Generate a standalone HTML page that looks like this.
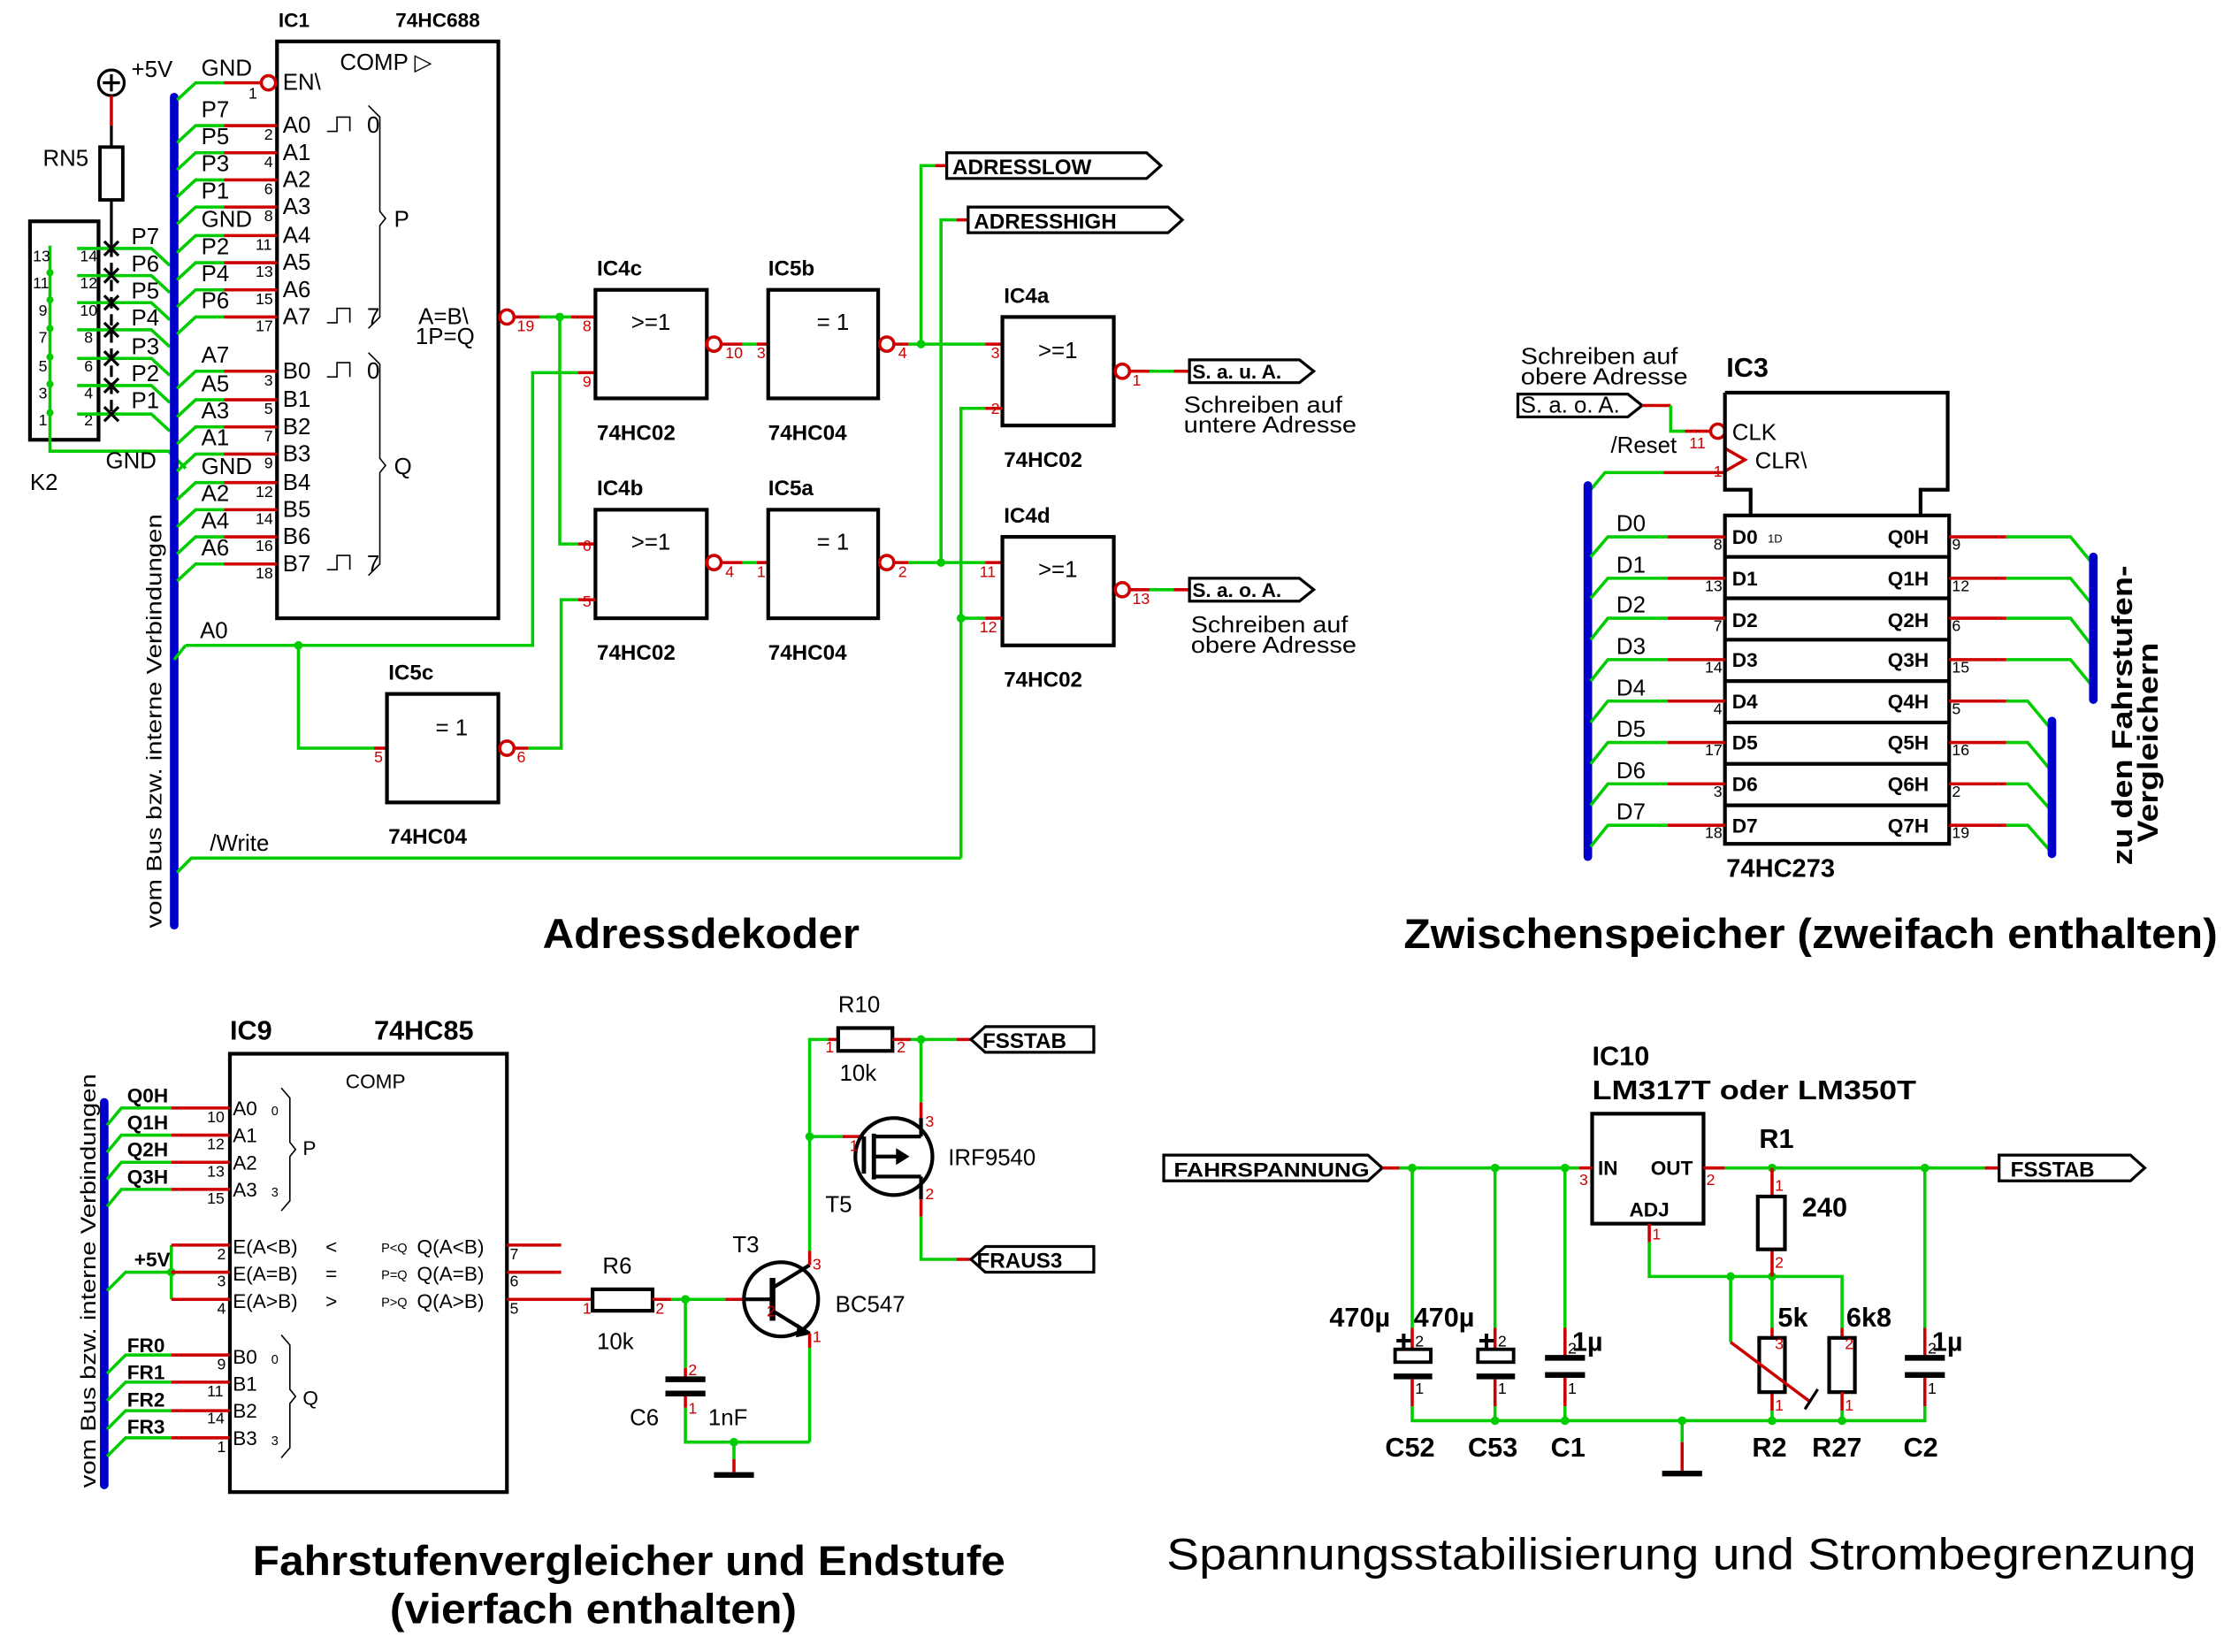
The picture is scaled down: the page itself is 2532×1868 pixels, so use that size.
<!DOCTYPE html>
<html><head><meta charset="utf-8"><style>
html,body{margin:0;padding:0;background:#fff;}
svg{display:block}
.g{stroke:#00cc00;stroke-width:2.2;fill:none}
.r{stroke:#cc0000;stroke-width:2.2;fill:none}
.k{stroke:#000;stroke-width:2.6;fill:none}
.b{stroke:#0000cc;stroke-width:6;stroke-linecap:round;fill:none}
text{font-family:"Liberation Sans",sans-serif;fill:#000}
.t{font-size:16px}
.bd{font-weight:bold}
.n{font-size:11px;fill:#cc0000}
.h{font-size:29px;font-weight:bold}
.dot{fill:#00cc00}
.s{font-size:15px}
</style></head><body>
<svg width="2532" height="1868" viewBox="0 0 1568 1157" preserveAspectRatio="none" xmlns="http://www.w3.org/2000/svg">
<rect width="1568" height="1157" fill="#fff"/>

<!-- ================= ADRESSDEKODER ================= -->
<circle cx="78" cy="58" r="9" class="k" style="stroke-width:2"/>
<path d="M72,58H84M78,52V64" class="k" style="stroke-width:2"/>
<text x="92" y="54" class="t">+5V</text>
<path d="M78,67V88" class="r"/>
<path d="M78,88V103M78,140V172" class="k" style="stroke-width:2"/>
<rect x="70" y="103" width="16" height="37" class="k" style="stroke-width:2.4"/>
<text x="30" y="116" class="t">RN5</text>
<path d="M78,172V290" class="k" style="stroke-width:2;stroke-dasharray:8,4"/>
<rect x="21" y="155" width="48" height="153" class="k"/>
<text x="21" y="343" class="t">K2</text>
<path d="M35,172V316H118L130,328" class="g"/>
<text x="74" y="328" class="t">GND</text>
<g class="n">
<text x="23" y="183">13</text><text x="23" y="202">11</text><text x="27" y="221">9</text><text x="27" y="240">7</text><text x="27" y="260">5</text><text x="27" y="279">3</text><text x="27" y="298">1</text>
<text x="56" y="183">14</text><text x="56" y="202">12</text><text x="56" y="221">10</text><text x="59" y="240">8</text><text x="59" y="260">6</text><text x="59" y="279">4</text><text x="59" y="298">2</text>
</g>
<g class="dot"><circle cx="35" cy="191" r="2.5"/><circle cx="35" cy="210" r="2.5"/><circle cx="35" cy="230" r="2.5"/><circle cx="35" cy="250" r="2.5"/><circle cx="35" cy="269" r="2.5"/><circle cx="35" cy="289" r="2.5"/></g>
<g class="g">
<path d="M54,174H106L119,186"/><path d="M54,193H106L119,205"/><path d="M54,212H106L119,224"/><path d="M54,231H106L119,243"/><path d="M54,251H106L119,263"/><path d="M54,270H106L119,282"/><path d="M54,290H106L119,302"/>
</g>
<g class="k" style="stroke-width:2">
<path d="M73,169l10,10M83,169l-10,10"/><path d="M73,188l10,10M83,188l-10,10"/><path d="M73,207l10,10M83,207l-10,10"/><path d="M73,226l10,10M83,226l-10,10"/><path d="M73,246l10,10M83,246l-10,10"/><path d="M73,265l10,10M83,265l-10,10"/><path d="M73,285l10,10M83,285l-10,10"/>
</g>
<g class="t"><text x="92" y="171">P7</text><text x="92" y="190">P6</text><text x="92" y="209">P5</text><text x="92" y="228">P4</text><text x="92" y="248">P3</text><text x="92" y="267">P2</text><text x="92" y="286">P1</text></g>

<path d="M122,68V648" class="b"/>
<text transform="translate(113,650) rotate(-90)" class="s" textLength="290" lengthAdjust="spacingAndGlyphs">vom Bus bzw. interne Verbindungen</text>

<rect x="194" y="29" width="155" height="404" class="k"/>
<text x="195" y="19" class="bd" style="font-size:14px">IC1</text>
<text x="277" y="19" class="bd" style="font-size:14px">74HC688</text>
<text x="238" y="49" class="t">COMP ▷</text>
<g class="g">
<path d="M124,70L137,58H157"/>
<path d="M124,100L137,88H157"/><path d="M124,119L137,107H157"/><path d="M124,138L137,126H157"/><path d="M124,157L137,145H157"/><path d="M124,177L137,165H157"/><path d="M124,196L137,184H157"/><path d="M124,215L137,203H157"/><path d="M124,234L137,222H157"/>
<path d="M124,272L137,260H157"/><path d="M124,292L137,280H157"/><path d="M124,311L137,299H157"/><path d="M124,330L137,318H157"/><path d="M124,350L137,338H157"/><path d="M124,369L137,357H157"/><path d="M124,388L137,376H157"/><path d="M124,407L137,395H157"/>
</g>
<g class="r">
<path d="M157,58H183"/><path d="M157,88H194M157,107H194M157,126H194M157,145H194M157,165H194M157,184H194M157,203H194M157,222H194"/>
<path d="M157,260H194M157,280H194M157,299H194M157,318H194M157,338H194M157,357H194M157,376H194M157,395H194"/>
</g>
<circle cx="188" cy="58" r="5" class="r"/>
<g class="t">
<text x="141" y="53">GND</text><text x="141" y="82">P7</text><text x="141" y="101">P5</text><text x="141" y="120">P3</text><text x="141" y="139">P1</text><text x="141" y="159">GND</text><text x="141" y="178">P2</text><text x="141" y="197">P4</text><text x="141" y="216">P6</text>
<text x="141" y="254">A7</text><text x="141" y="274">A5</text><text x="141" y="293">A3</text><text x="141" y="312">A1</text><text x="141" y="332">GND</text><text x="141" y="351">A2</text><text x="141" y="370">A4</text><text x="141" y="389">A6</text>
</g>
<g class="n">
<text x="174" y="69">1</text><text x="185" y="98">2</text><text x="185" y="117">4</text><text x="185" y="136">6</text><text x="185" y="155">8</text><text x="179" y="175">11</text><text x="179" y="194">13</text><text x="179" y="213">15</text><text x="179" y="232">17</text>
<text x="185" y="270">3</text><text x="185" y="290">5</text><text x="185" y="309">7</text><text x="185" y="328">9</text><text x="179" y="348">12</text><text x="179" y="367">14</text><text x="179" y="386">16</text><text x="179" y="405">18</text>
</g>
<g class="t">
<text x="198" y="63">EN\</text>
<text x="198" y="93">A0</text><text x="198" y="112">A1</text><text x="198" y="131">A2</text><text x="198" y="150">A3</text><text x="198" y="170">A4</text><text x="198" y="189">A5</text><text x="198" y="208">A6</text><text x="198" y="227">A7</text>
<text x="198" y="265">B0</text><text x="198" y="285">B1</text><text x="198" y="304">B2</text><text x="198" y="323">B3</text><text x="198" y="343">B4</text><text x="198" y="362">B5</text><text x="198" y="381">B6</text><text x="198" y="400">B7</text>
<text x="257" y="93">0</text><text x="257" y="227">7</text><text x="257" y="265">0</text><text x="257" y="400">7</text>
<text x="276" y="159">P</text><text x="276" y="332">Q</text>
<text x="293" y="227">A=B\</text><text x="291" y="241">1P=Q</text>
</g>
<g fill="none" stroke="#000" stroke-width="1">
<path d="M229,92H236V82H245V92"/><path d="M229,226H236V216H245V226"/><path d="M229,264H236V254H245V264"/><path d="M229,399H236V389H245V399"/>
<path d="M258,74L266,82V148L270,153L266,158V222L258,230"/>
<path d="M258,247L266,255V321L270,326L266,331V395L258,403"/>
</g>
<circle cx="355" cy="222" r="5" class="r"/>
<path d="M360,222H378" class="r"/><path d="M378,222H400" class="g"/><path d="M400,222H417" class="r"/>
<text x="362" y="232" class="n">19</text>
<circle cx="392" cy="222" r="3" class="dot"/>
<path d="M392,222V381H405" class="g"/><path d="M405,381H417" class="r"/>
<path d="M130,452H373V261H405" class="g"/><path d="M405,261H417" class="r"/>
<text x="140" y="447" class="t">A0</text>
<path d="M122,462L130,452" class="g"/>
<circle cx="209" cy="452" r="3" class="dot"/>
<path d="M209,452V524H262" class="g"/><path d="M262,524H271" class="r"/>

<rect x="417" y="203" width="78" height="76" class="k"/>
<text x="442" y="231" class="t">&gt;=1</text>
<text x="418" y="193" class="bd" style="font-size:15px">IC4c</text>
<text x="418" y="308" class="bd" style="font-size:15px">74HC02</text>
<text x="408" y="232" class="n">8</text><text x="408" y="271" class="n">9</text>
<circle cx="500" cy="241" r="5" class="r"/>
<path d="M505,241H520" class="r"/><path d="M520,241H530" class="g"/><path d="M530,241H538" class="r"/>
<text x="508" y="251" class="n">10</text><text x="530" y="251" class="n">3</text>
<rect x="538" y="203" width="77" height="76" class="k"/>
<text x="572" y="231" class="t">= 1</text>
<text x="538" y="193" class="bd" style="font-size:15px">IC5b</text>
<text x="538" y="308" class="bd" style="font-size:15px">74HC04</text>
<circle cx="621" cy="241" r="5" class="r"/>
<path d="M626,241H636" class="r"/><path d="M636,241H690" class="g"/><path d="M690,241H702" class="r"/>
<text x="629" y="251" class="n">4</text><text x="694" y="251" class="n">3</text>
<circle cx="645" cy="241" r="3" class="dot"/>
<path d="M645,241V116H655" class="g"/><path d="M655,116H663" class="r"/>
<path d="M663,107H803L813,116L803,125H663Z" class="k" style="stroke-width:2"/>
<text x="667" y="122" class="bd" style="font-size:15px">ADRESSLOW</text>
<path d="M659,394V154H670" class="g"/><path d="M670,154H678" class="r"/>
<path d="M678,145H818L828,154L818,163H678Z" class="k" style="stroke-width:2"/>
<text x="682" y="160" class="bd" style="font-size:15px">ADRESSHIGH</text>

<rect x="702" y="222" width="78" height="76" class="k"/>
<text x="727" y="251" class="t">&gt;=1</text>
<text x="703" y="212" class="bd" style="font-size:15px">IC4a</text>
<text x="703" y="327" class="bd" style="font-size:15px">74HC02</text>
<path d="M673,601V286H690" class="g"/><path d="M690,286H702" class="r"/>
<text x="694" y="290" class="n">2</text>
<circle cx="786" cy="260" r="5" class="r"/>
<path d="M791,260H805" class="r"/><path d="M805,260H822" class="g"/><path d="M822,260H833" class="r"/>
<text x="793" y="270" class="n">1</text>
<path d="M833,252H910L920,260L910,268H833Z" class="k" style="stroke-width:2"/>
<text x="835" y="265" class="bd" style="font-size:14px">S. a. u. A.</text>
<text x="829" y="289" class="t" textLength="111" lengthAdjust="spacingAndGlyphs">Schreiben auf</text>
<text x="829" y="303" class="t" textLength="121" lengthAdjust="spacingAndGlyphs">untere Adresse</text>

<rect x="417" y="357" width="78" height="76" class="k"/>
<text x="442" y="385" class="t">&gt;=1</text>
<text x="418" y="347" class="bd" style="font-size:15px">IC4b</text>
<text x="418" y="462" class="bd" style="font-size:15px">74HC02</text>
<text x="408" y="386" class="n">6</text><text x="408" y="425" class="n">5</text>
<circle cx="500" cy="394" r="5" class="r"/>
<path d="M505,394H520" class="r"/><path d="M520,394H530" class="g"/><path d="M530,394H538" class="r"/>
<text x="508" y="404" class="n">4</text><text x="530" y="404" class="n">1</text>
<rect x="538" y="357" width="77" height="76" class="k"/>
<text x="572" y="385" class="t">= 1</text>
<text x="538" y="347" class="bd" style="font-size:15px">IC5a</text>
<text x="538" y="462" class="bd" style="font-size:15px">74HC04</text>
<circle cx="621" cy="394" r="5" class="r"/>
<path d="M626,394H636" class="r"/><path d="M636,394H690" class="g"/><path d="M690,394H702" class="r"/>
<text x="629" y="404" class="n">2</text><text x="686" y="404" class="n">11</text>
<circle cx="659" cy="394" r="3" class="dot"/>
<rect x="702" y="376" width="78" height="76" class="k"/>
<text x="727" y="404" class="t">&gt;=1</text>
<text x="703" y="366" class="bd" style="font-size:15px">IC4d</text>
<text x="703" y="481" class="bd" style="font-size:15px">74HC02</text>
<path d="M673,433H690" class="g"/><path d="M690,433H702" class="r"/>
<text x="686" y="443" class="n">12</text>
<circle cx="673" cy="433" r="3" class="dot"/>
<circle cx="786" cy="413" r="5" class="r"/>
<path d="M791,413H805" class="r"/><path d="M805,413H822" class="g"/><path d="M822,413H833" class="r"/>
<text x="793" y="423" class="n">13</text>
<path d="M833,405H910L920,413L910,421H833Z" class="k" style="stroke-width:2"/>
<text x="835" y="418" class="bd" style="font-size:14px">S. a. o. A.</text>
<text x="834" y="443" class="t" textLength="110" lengthAdjust="spacingAndGlyphs">Schreiben auf</text>
<text x="834" y="457" class="t" textLength="116" lengthAdjust="spacingAndGlyphs">obere Adresse</text>

<rect x="271" y="486" width="78" height="76" class="k"/>
<text x="305" y="515" class="t">= 1</text>
<text x="272" y="476" class="bd" style="font-size:15px">IC5c</text>
<text x="272" y="591" class="bd" style="font-size:15px">74HC04</text>
<text x="262" y="534" class="n">5</text>
<circle cx="355" cy="524" r="5" class="r"/>
<path d="M360,524H370" class="r"/><path d="M370,524H393V420H405" class="g"/><path d="M405,420H417" class="r"/>
<text x="362" y="534" class="n">6</text>

<path d="M124,611L134,601H673" class="g"/>
<text x="147" y="596" class="t">/Write</text>

<text x="380" y="664" class="h" textLength="222" lengthAdjust="spacingAndGlyphs">Adressdekoder</text>

<!-- ================= ZWISCHENSPEICHER ================= -->
<text x="1065" y="255" class="t" textLength="110" lengthAdjust="spacingAndGlyphs">Schreiben auf</text>
<text x="1065" y="269" class="t" textLength="117" lengthAdjust="spacingAndGlyphs">obere Adresse</text>
<text x="1209" y="264" class="bd" style="font-size:19px">IC3</text>
<path d="M1063,276H1140L1150,284L1140,292H1063Z" class="k" style="stroke-width:2"/>
<text x="1065" y="289" class="t">S. a. o. A.</text>
<path d="M1150,284H1170" class="r"/><path d="M1170,284V302H1180" class="g"/><path d="M1180,302H1198" class="r"/>
<circle cx="1203" cy="302" r="5" class="r"/>
<text x="1213" y="308" class="t">CLK</text>
<text x="1183" y="314" class="n">11</text>
<path d="M1114,343L1124,331H1165" class="g"/><path d="M1165,331H1208" class="r"/>
<path d="M1208,314L1222,322L1208,330" class="r"/>
<text x="1229" y="328" class="t">CLR\</text>
<text x="1128" y="317" class="t">/Reset</text>
<text x="1200" y="334" class="n">1</text>
<path d="M1208,275H1364V343H1345V361M1208,275V343H1226V361" class="k"/>
<rect x="1208" y="361" width="157" height="230" class="k"/>
<path d="M1208,390H1365M1208,419H1365M1208,448H1365M1208,477H1365M1208,506H1365M1208,535H1365M1208,564H1365" class="k"/>
<text x="1209" y="614" class="bd" style="font-size:18px">74HC273</text>
<path d="M1112,340V600" class="b"/>
<g class="g">
<path d="M1114,390L1126,376H1168"/><path d="M1114,419L1126,405H1168"/><path d="M1114,448L1126,433H1168"/><path d="M1114,477L1126,462H1168"/><path d="M1114,506L1126,491H1168"/><path d="M1114,535L1126,520H1168"/><path d="M1114,564L1126,549H1168"/><path d="M1114,593L1126,578H1168"/>
<path d="M1405,376H1450L1464,393"/><path d="M1405,405H1450L1464,422"/><path d="M1405,433H1450L1464,451"/><path d="M1405,462H1450L1464,479"/>
<path d="M1405,491H1420L1435,509"/><path d="M1405,520H1420L1435,538"/><path d="M1405,549H1420L1435,566"/><path d="M1405,578H1420L1435,595"/>
</g>
<g class="r">
<path d="M1168,376H1208M1168,405H1208M1168,433H1208M1168,462H1208M1168,491H1208M1168,520H1208M1168,549H1208M1168,578H1208"/>
<path d="M1365,376H1405M1365,405H1405M1365,433H1405M1365,462H1405M1365,491H1405M1365,520H1405M1365,549H1405M1365,578H1405"/>
</g>
<path d="M1466,390V490" class="b"/><path d="M1437,505V598" class="b"/>
<g class="t">
<text x="1132" y="372">D0</text><text x="1132" y="401">D1</text><text x="1132" y="429">D2</text><text x="1132" y="458">D3</text><text x="1132" y="487">D4</text><text x="1132" y="516">D5</text><text x="1132" y="545">D6</text><text x="1132" y="574">D7</text>
</g>
<g class="bd" style="font-size:14px">
<text x="1213" y="381">D0</text><text x="1213" y="410">D1</text><text x="1213" y="439">D2</text><text x="1213" y="467">D3</text><text x="1213" y="496">D4</text><text x="1213" y="525">D5</text><text x="1213" y="554">D6</text><text x="1213" y="583">D7</text>
<text x="1322" y="381">Q0H</text><text x="1322" y="410">Q1H</text><text x="1322" y="439">Q2H</text><text x="1322" y="467">Q3H</text><text x="1322" y="496">Q4H</text><text x="1322" y="525">Q5H</text><text x="1322" y="554">Q6H</text><text x="1322" y="583">Q7H</text>
</g>
<text x="1238" y="380" style="font-size:8px">1D</text>
<g class="n">
<text x="1200" y="385">8</text><text x="1194" y="414">13</text><text x="1200" y="442">7</text><text x="1194" y="471">14</text><text x="1200" y="500">4</text><text x="1194" y="529">17</text><text x="1200" y="558">3</text><text x="1194" y="587">18</text>
<text x="1367" y="385">9</text><text x="1367" y="414">12</text><text x="1367" y="442">6</text><text x="1367" y="471">15</text><text x="1367" y="500">5</text><text x="1367" y="529">16</text><text x="1367" y="558">2</text><text x="1367" y="587">19</text>
</g>
<text transform="translate(1493,606) rotate(-90)" class="bd" style="font-size:20px" textLength="210" lengthAdjust="spacingAndGlyphs">zu den Fahrstufen-</text>
<text transform="translate(1511,590) rotate(-90)" class="bd" style="font-size:20px" textLength="140" lengthAdjust="spacingAndGlyphs">Vergleichern</text>
<text x="983" y="664" class="h" textLength="570" lengthAdjust="spacingAndGlyphs">Zwischenspeicher (zweifach enthalten)</text>

<!-- ================= FAHRSTUFENVERGLEICHER ================= -->
<text x="161" y="728" class="bd" style="font-size:19px">IC9</text>
<text x="262" y="728" class="bd" style="font-size:19px">74HC85</text>
<rect x="161" y="738" width="194" height="307" class="k"/>
<path d="M73,772V1040" class="b"/>
<text transform="translate(67,1042) rotate(-90)" class="s" textLength="290" lengthAdjust="spacingAndGlyphs">vom Bus bzw. interne Verbindungen</text>
<g class="g">
<path d="M75,788L85,776H120"/><path d="M75,807L85,795H120"/><path d="M75,826L85,814H120"/><path d="M75,845L85,833H120"/>
<path d="M75,904L88,891H120"/><path d="M120,872V910"/>
<path d="M75,962L88,949H120"/><path d="M75,981L88,968H120"/><path d="M75,1001L88,988H120"/><path d="M75,1020L88,1007H120"/>
</g>
<circle cx="120" cy="891" r="3" class="dot"/>
<g class="r">
<path d="M120,776H161M120,795H161M120,814H161M120,833H161M120,872H161M120,891H161M120,910H161M120,949H161M120,968H161M120,988H161M120,1007H161"/>
<path d="M355,872H393M355,891H393M355,910H415"/>
</g>
<g class="bd" style="font-size:14px">
<text x="89" y="772">Q0H</text><text x="89" y="791">Q1H</text><text x="89" y="810">Q2H</text><text x="89" y="829">Q3H</text>
<text x="94" y="887">+5V</text>
<text x="89" y="947">FR0</text><text x="89" y="966">FR1</text><text x="89" y="985">FR2</text><text x="89" y="1004">FR3</text>
</g>
<g class="n">
<text x="145" y="786">10</text><text x="145" y="805">12</text><text x="145" y="824">13</text><text x="145" y="843">15</text>
<text x="152" y="882">2</text><text x="152" y="901">3</text><text x="152" y="920">4</text>
<text x="152" y="959">9</text><text x="145" y="978">11</text><text x="145" y="997">14</text><text x="152" y="1017">1</text>
<text x="357" y="882">7</text><text x="357" y="901">6</text><text x="357" y="920">5</text>
</g>
<g style="font-size:14px;font-weight:300">
<text x="242" y="762">COMP</text>
<text x="163" y="781">A0</text><text x="163" y="800">A1</text><text x="163" y="819">A2</text><text x="163" y="838">A3</text>
<text x="163" y="878">E(A&lt;B)</text><text x="163" y="897">E(A=B)</text><text x="163" y="916">E(A&gt;B)</text>
<text x="163" y="955">B0</text><text x="163" y="974">B1</text><text x="163" y="993">B2</text><text x="163" y="1012">B3</text>
<text x="292" y="878">Q(A&lt;B)</text><text x="292" y="897">Q(A=B)</text><text x="292" y="916">Q(A&gt;B)</text>
<text x="212" y="809">P</text><text x="212" y="984">Q</text>
<text x="228" y="878">&lt;</text><text x="228" y="897">=</text><text x="228" y="916">&gt;</text>
</g>
<g style="font-size:9px">
<text x="190" y="781">0</text><text x="190" y="838">3</text><text x="190" y="955">0</text><text x="190" y="1012">3</text>
<text x="267" y="877">P&lt;Q</text><text x="267" y="896">P=Q</text><text x="267" y="915">P&gt;Q</text>
</g>
<g fill="none" stroke="#000" stroke-width="1">
<path d="M197,762L203,769V800L207,805L203,810V841L197,848"/>
<path d="M197,935L203,942V973L207,978L203,983V1014L197,1021"/>
</g>
<rect x="415" y="903" width="42" height="15" class="k"/>
<text x="422" y="892" class="t">R6</text><text x="418" y="945" class="t">10k</text>
<text x="408" y="920" class="n">1</text><text x="459" y="920" class="n">2</text>
<path d="M457,910H470" class="r"/><path d="M470,910H508" class="g"/><path d="M508,910H521" class="r"/>
<circle cx="480" cy="910" r="3" class="dot"/>
<path d="M480,910V958" class="g"/><path d="M480,958V966M480,976V986" class="r"/><path d="M480,986V1010H567" class="g"/>
<path d="M466,966H494M466,976H494" stroke="#000" stroke-width="4"/>
<text x="482" y="963" class="n">2</text><text x="482" y="990" class="n">1</text>
<text x="441" y="998" class="t">C6</text><text x="496" y="998" class="t">1nF</text>
<circle cx="514" cy="1010" r="3" class="dot"/>
<path d="M514,1010V1022" class="g"/><path d="M514,1022V1031" class="r"/>
<path d="M500,1033H528" stroke="#000" stroke-width="4"/>
<circle cx="547" cy="910" r="26" class="k"/>
<path d="M541,895V925" stroke="#000" stroke-width="4"/>
<path d="M521,910H541M541,902L567,886M541,918L567,934" class="k"/>
<path d="M559,928L567,934L558,936Z" fill="#000" stroke="#000"/>
<path d="M567,886V876M567,934V944" class="r"/>
<text x="569" y="889" class="n">3</text><text x="569" y="940" class="n">1</text><text x="537" y="922" class="n">2</text>
<text x="513" y="877" class="t">T3</text><text x="585" y="919" class="t">BC547</text>
<path d="M567,876V728H580M567,944V1010" class="g"/>
<path d="M580,728H587" class="r"/>
<circle cx="567" cy="796" r="3" class="dot"/>
<path d="M567,796H590" class="g"/><path d="M590,796H605" class="r"/>
<rect x="587" y="720" width="38" height="16" class="k"/>
<text x="587" y="709" class="t">R10</text><text x="588" y="757" class="t">10k</text>
<text x="578" y="737" class="n">1</text><text x="628" y="737" class="n">2</text>
<path d="M625,728H638" class="r"/><path d="M638,728H670" class="g"/><path d="M670,728H680" class="r"/>
<circle cx="645" cy="728" r="3" class="dot"/>
<path d="M680,728L690,719H766V737H690Z" class="k" style="stroke-width:2"/>
<text x="688" y="734" class="bd" style="font-size:15px">FSSTAB</text>
<circle cx="626" cy="810" r="27" class="k"/>
<path d="M605,796V822M612,794V826" class="k" style="stroke-width:3"/>
<path d="M612,796H645M612,810H630M612,824H645M645,796V783M645,824V840" class="k"/>
<path d="M628,805L636,810L628,815Z" fill="#000" stroke="#000"/>
<path d="M645,783V772M645,840V852" class="r"/>
<path d="M645,728V772M645,852V882H670" class="g"/><path d="M670,882H680" class="r"/>
<text x="648" y="789" class="n">3</text><text x="648" y="840" class="n">2</text><text x="595" y="806" class="n">1</text>
<text x="664" y="816" class="t">IRF9540</text><text x="578" y="849" class="t">T5</text>
<path d="M680,882L690,873H766V891H690Z" class="k" style="stroke-width:2"/>
<text x="684" y="888" class="bd" style="font-size:15px">FRAUS3</text>
<text x="177" y="1103" class="h" textLength="527" lengthAdjust="spacingAndGlyphs">Fahrstufenvergleicher und Endstufe</text>
<text x="273" y="1137" class="h" textLength="285" lengthAdjust="spacingAndGlyphs">(vierfach enthalten)</text>

<!-- ================= SPANNUNG ================= -->
<text x="1115" y="746" class="bd" style="font-size:19px">IC10</text>
<text x="1115" y="770" class="bd" style="font-size:19px" textLength="227" lengthAdjust="spacingAndGlyphs">LM317T oder LM350T</text>
<rect x="1115" y="780" width="78" height="77" class="k"/>
<g class="bd" style="font-size:14px"><text x="1119" y="823">IN</text><text x="1156" y="823">OUT</text><text x="1141" y="852">ADJ</text></g>
<path d="M815,809H958L968,818L958,827H815Z" class="k" style="stroke-width:2"/>
<text x="822" y="824" class="bd" style="font-size:14px" textLength="137" lengthAdjust="spacingAndGlyphs">FAHRSPANNUNG</text>
<path d="M968,818H980" class="r"/><path d="M980,818H1106" class="g"/><path d="M1106,818H1115" class="r"/>
<path d="M1193,818H1208" class="r"/><path d="M1208,818H1390" class="g"/><path d="M1390,818H1400" class="r"/>
<path d="M1400,809H1492L1502,818L1492,827H1400Z" class="k" style="stroke-width:2"/>
<text x="1408" y="824" class="bd" style="font-size:15px">FSSTAB</text>
<text x="1106" y="830" class="n">3</text><text x="1195" y="830" class="n">2</text><text x="1157" y="868" class="n">1</text>
<text x="1232" y="804" class="bd" style="font-size:19px">R1</text>
<g class="dot"><circle cx="989" cy="818" r="3"/><circle cx="1047" cy="818" r="3"/><circle cx="1096" cy="818" r="3"/><circle cx="1241" cy="818" r="3"/><circle cx="1348" cy="818" r="3"/>
<circle cx="1212" cy="894" r="3"/><circle cx="1241" cy="894" r="3"/>
<circle cx="1047" cy="995" r="3"/><circle cx="1096" cy="995" r="3"/><circle cx="1178" cy="995" r="3"/><circle cx="1241" cy="995" r="3"/><circle cx="1290" cy="995" r="3"/></g>
<path d="M1155,857V870" class="r"/><path d="M1155,870V894H1290V930" class="g"/><path d="M1290,930V937" class="r"/>
<path d="M1241,818V838M1241,875V894" class="r"/>
<rect x="1231" y="838" width="19" height="37" class="k"/>
<text x="1262" y="852" class="bd" style="font-size:19px">240</text>
<text x="1243" y="834" class="n">1</text><text x="1243" y="888" class="n">2</text>
<path d="M1241,894V930" class="g"/><path d="M1241,930V937M1241,975V988" class="r"/>
<rect x="1232" y="937" width="18" height="38" class="k"/>
<path d="M1212,894V940" class="g"/><path d="M1212,940L1268,982" class="r"/>
<path d="M1264,987L1273,973" class="k" style="stroke-width:2"/>
<text x="1245" y="929" class="bd" style="font-size:19px">5k</text>
<text x="1243" y="945" class="n">3</text><text x="1243" y="988" class="n">1</text>
<rect x="1281" y="937" width="18" height="38" class="k"/>
<path d="M1290,975V988" class="r"/>
<text x="1293" y="929" class="bd" style="font-size:19px">6k8</text>
<text x="1292" y="945" class="n">2</text><text x="1292" y="988" class="n">1</text>
<path d="M989,818V930M1047,818V930M1096,818V930M1348,818V930" class="g"/>
<path d="M989,930V945M1047,930V945M1096,930V950M1348,930V950" class="r"/>
<rect x="977" y="945" width="25" height="9" class="k" style="stroke-width:2.4"/>
<rect x="1035" y="945" width="25" height="9" class="k" style="stroke-width:2.4"/>
<path d="M976,964H1003M1034,964H1061M1082,951H1110M1082,963H1110M1334,951H1362M1334,963H1362" stroke="#000" stroke-width="4"/>
<path d="M978,939H988M983,934V944M1036,939H1046M1041,934V944" stroke="#000" stroke-width="2.5"/>
<path d="M989,966V985M1047,966V985M1096,965V985M1348,965V985" class="r"/>
<path d="M989,985V995H1348V985M1047,985V995M1096,985V995M1241,988V995M1290,988V995" class="g"/>
<path d="M1178,995V1010" class="g"/><path d="M1178,1010V1030" class="r"/>
<path d="M1164,1032H1192" stroke="#000" stroke-width="4"/>
<g class="n"><text x="991" y="943">2</text><text x="1049" y="943">2</text><text x="1098" y="948">2</text><text x="1350" y="948">2</text>
<text x="991" y="976">1</text><text x="1049" y="976">1</text><text x="1098" y="976">1</text><text x="1350" y="976">1</text></g>
<g class="bd" style="font-size:19px">
<text x="931" y="929">470µ</text><text x="990" y="929">470µ</text><text x="1101" y="946">1µ</text><text x="1353" y="946">1µ</text>
<text x="970" y="1020">C52</text><text x="1028" y="1020">C53</text><text x="1086" y="1020">C1</text><text x="1227" y="1020">R2</text><text x="1269" y="1020">R27</text><text x="1333" y="1020">C2</text>
</g>
<text x="817" y="1099" style="font-size:31px" textLength="721" lengthAdjust="spacingAndGlyphs">Spannungsstabilisierung und Strombegrenzung</text>
</svg>
</body></html>
